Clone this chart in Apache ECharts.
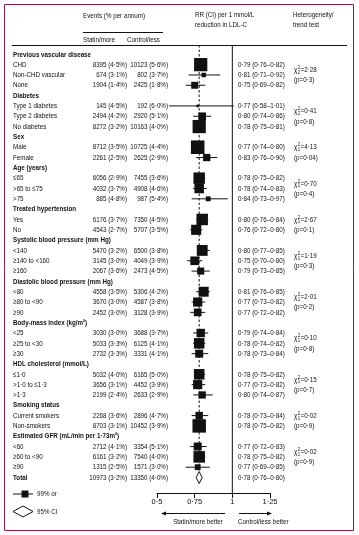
<!DOCTYPE html>
<html><head><meta charset="utf-8">
<script src="https://cdn.jsdelivr.net/npm/echarts@6/dist/echarts.min.js"></script>
<style>html,body{margin:0;padding:0;background:#fff}#c{width:359px;height:535px}</style>
</head><body><div id="c"></div>
<script>
const subgroups = ['Previous vascular disease','CHD','Non-CHD vascular','None','Diabetes','Type 1 diabetes','Type 2 diabetes','No diabetes','Sex','Male','Female','Age (years)','≤65','>65 to ≤75','>75','Treated hypertension','Yes','No','Systolic blood pressure (mm Hg)','<140','≥140 to <160','≥160','Diastolic blood pressure (mm Hg)','<80','≥80 to <90','≥90','Body-mass index (kg/m²)','<25','≥25 to <30','≥30','HDL cholesterol (mmol/L)','≤1·0','>1·0 to ≤1·3','>1·3','Smoking status','Current smokers','Non-smokers','Estimated GFR (mL/min per 1·73m²)','<60','≥60 to <90','≥90','Total'];
const statinN = [null,8395,674,1904,null,145,2494,8272,null,8712,2261,null,6056,4032,885,null,6176,4543,null,5470,3145,2067,null,4558,3670,2452,null,3030,5033,2732,null,5032,3656,2199,null,2268,8703,null,2712,6161,1315,10973];
const statinPct = [null,4.5,3.1,1.4,null,4.5,4.2,3.2,null,3.5,2.5,null,2.9,3.7,4.8,null,3.7,2.7,null,3.2,3.0,3.6,null,3.5,3.0,3.0,null,3.0,3.3,3.3,null,4.0,3.1,2.4,null,3.6,3.1,null,4.1,3.2,2.5,3.2];
const controlN = [null,10123,802,2425,null,192,2920,10163,null,10725,2625,null,7455,4908,987,null,7350,5707,null,6500,4049,2473,null,5306,4587,3128,null,3688,6125,3331,null,6165,4452,2633,null,2896,10452,null,3354,7540,1571,13350];
const controlPct = [null,5.6,3.7,1.8,null,6.0,5.1,4.0,null,4.4,2.9,null,3.6,4.6,5.4,null,4.5,3.5,null,3.8,3.9,4.5,null,4.2,3.8,3.9,null,3.7,4.1,4.1,null,5.0,3.9,2.9,null,4.7,3.9,null,5.1,4.0,3.0,4.0];
const rr = [null,0.79,0.81,0.75,null,0.77,0.80,0.78,null,0.77,0.83,null,0.78,0.78,0.84,null,0.80,0.76,null,0.80,0.75,0.79,null,0.81,0.77,0.77,null,0.79,0.78,0.78,null,0.78,0.77,0.80,null,0.78,0.78,null,0.77,0.78,0.77,0.78];
const rrLow = [null,0.76,0.71,0.69,null,0.58,0.74,0.75,null,0.74,0.76,null,0.75,0.74,0.73,null,0.76,0.72,null,0.77,0.70,0.73,null,0.76,0.73,0.72,null,0.74,0.74,0.73,null,0.75,0.73,0.74,null,0.73,0.75,null,0.72,0.75,0.69,0.76];
const rrHigh = [null,0.82,0.92,0.82,null,1.01,0.86,0.81,null,0.80,0.90,null,0.82,0.83,0.97,null,0.84,0.80,null,0.85,0.80,0.85,null,0.85,0.82,0.82,null,0.84,0.82,0.84,null,0.82,0.82,0.87,null,0.84,0.82,null,0.83,0.82,0.85,0.80];
const hetGroups = [0,4,8,11,15,18,22,26,30,34,37];
const hetDf = [2,2,1,1,1,1,1,1,1,1,1];
const hetChi = ['2·28','0·41','4·13','0·70','2·67','1·19','2·01','0·10','0·15','0·02','0·02'];
const hetP = ['0·3','0·8','0·04','0·4','0·1','0·3','0·2','0·8','0·7','0·9','0·9'];
const xTicks = [0.5, 0.75, 1, 1.25];
const overallRR = 0.78;
const TOTAL = subgroups.length - 1;

const FONT = '"Liberation Sans",Arial,sans-serif';
const FS = '8px ';
const SX = 0.78;
const INK = '#111111';
const BORDER = '#8c1c4c';
function fmt(v, d) { return v.toFixed(d).replace('.', '·'); }
function t(text, x, y, opt) {
  opt = opt || {};
  return {type:'text', silent:true, x, y, scaleX: SX, scaleY: 1,
    style:{text, x:0, y:0, font:(opt.bold?'bold ':'') + (opt.size||FS) + FONT,
    fill: INK, textAlign: opt.align||'left', textVerticalAlign:'middle'}};
}

const chart = echarts.init(document.getElementById('c'), null, {renderer:'canvas'});

const rowData = subgroups.map((s, i) => [0.5, i]);
const ciData = [];
rr.forEach((v, i) => { if (v != null && i !== TOTAL) ciData.push([v, i, rrLow[i], rrHigh[i], statinN[i] + controlN[i]]); });
const hetData = hetGroups.map((g, k) => [0.5, g, k]);

const option = {
  animation: false,
  grid: {left:157, right:89, top:44, bottom:42},
  xAxis: {type:'value', min:0.5, max:1.25, interval:0.25,
    axisLine:{show:true, onZero:false, lineStyle:{color:INK, width:1}},
    axisTick:{show:true, length:5, lineStyle:{color:INK}},
    splitLine:{show:false},
    axisLabel:{margin:5, color:INK, fontSize:7.5, fontFamily:'"Liberation Sans",sans-serif', formatter: v => String(v).replace('.', '·')}
  },
  yAxis: {type:'value', min:-1, max:42.5, inverse:true, show:false},
  series: [
    { // reference lines
      type:'custom', coordinateSystem:'cartesian2d', clip:false,
      data:[[overallRR, 0], [1, 1]],
      renderItem(params, api){
        const v = api.value(0);
        const dashed = params.dataIndex === 0;
        const top = api.coord([v, -0.9]);
        const bot = api.coord([v, dashed ? TOTAL - 0.6 : 42.5]);
        return {type:'line', shape:{x1:top[0], y1:top[1], x2:bot[0], y2:bot[1]},
          style:{stroke:INK, lineWidth:1, lineDash: dashed ? [2.5,2] : null}};
      }
    },
    { // CIs and squares
      type:'custom', coordinateSystem:'cartesian2d', clip:false,
      data: ciData,
      renderItem(params, api){
        const c = api.coord([api.value(0), api.value(1)]);
        const l = api.coord([api.value(2), api.value(1)]);
        const h = api.coord([api.value(3), api.value(1)]);
        const s = 1 + 0.09 * Math.sqrt(api.value(4));
        return {type:'group', children:[
          {type:'line', shape:{x1:l[0], y1:l[1], x2:h[0], y2:h[1]}, style:{stroke:INK, lineWidth:1}},
          {type:'rect', shape:{x:c[0]-s/2, y:c[1]-s/2, width:s, height:s}, style:{fill:INK}}
        ]};
      }
    },
    { // total diamond
      type:'custom', coordinateSystem:'cartesian2d', clip:false,
      data: [[rr[TOTAL], TOTAL, rrLow[TOTAL], rrHigh[TOTAL]]],
      renderItem(params, api){
        const c = api.coord([api.value(0), api.value(1)]);
        const l = api.coord([api.value(2), api.value(1)]);
        const h = api.coord([api.value(3), api.value(1)]);
        return {type:'polygon', shape:{points:[[l[0], c[1]], [c[0], c[1]-6], [h[0], c[1]], [c[0], c[1]+6]]},
          style:{fill:'#fff', stroke:INK, lineWidth:1}};
      }
    },
    { // table text
      type:'custom', coordinateSystem:'cartesian2d', clip:false,
      data: rowData,
      renderItem(params, api){
        const i = api.value(1);
        const y = api.coord([0.5, i])[1];
        const head = statinN[i] == null || i === TOTAL;
        const ch = [t(subgroups[i], 13, y, {bold: head})];
        if (statinN[i] != null) {
          ch.push(t(statinN[i] + ' (' + fmt(statinPct[i], 1) + '%)', 127, y, {align:'right'}));
          ch.push(t(controlN[i] + ' (' + fmt(controlPct[i], 1) + '%)', 168, y, {align:'right'}));
          ch.push(t(fmt(rr[i], 2) + ' (' + fmt(rrLow[i], 2) + '–' + fmt(rrHigh[i], 2) + ')', 238, y));
        }
        return {type:'group', children: ch};
      }
    },
    { // heterogeneity
      type:'custom', coordinateSystem:'cartesian2d', clip:false,
      data: hetData,
      renderItem(params, api){
        const k = api.value(2);
        const g = hetGroups[k];
        const next = k + 1 < hetGroups.length ? hetGroups[k+1] : TOTAL;
        const n = next - g - 1;
        const chiRow = n === 2 ? g + 1 : g + 1.5;
        const pRow = n === 2 ? g + 2 : g + 2.5;
        const y1 = api.coord([0.5, chiRow])[1];
        const y2 = api.coord([0.5, pRow])[1];
        const x = 294;
        return {type:'group', children:[
          t('χ', x, y1),
          t('2', x + 3.7, y1 - 2.3, {size:'5.5px '}),
          t(String(hetDf[k]), x + 3.7, y1 + 2.5, {size:'5.5px '}),
          t('=' + hetChi[k], x + 6.6, y1),
          t('(p=' + hetP[k] + ')', x, y2)
        ]};
      }
    }
  ],
  graphic: [
    {type:'rect', silent:true, shape:{x:4.5, y:4.5, width:349, height:526}, style:{fill:null, stroke:BORDER, lineWidth:1}},
    t('Events (% per annum)', 83, 16),
    {type:'line', silent:true, shape:{x1:83, y1:32.5, x2:163, y2:32.5}, style:{stroke:INK, lineWidth:1}},
    t('Statin/more', 83, 40),
    t('Control/less', 127, 40),
    t('RR (CI) per 1 mmol/L', 195, 15),
    t('reduction in LDL-C', 195, 25),
    t('Heterogeneity/', 293, 15),
    t('trend test', 293, 25),
    {type:'line', silent:true, shape:{x1:12, y1:45.5, x2:347, y2:45.5}, style:{stroke:INK, lineWidth:1}},
    // legend
    {type:'line', silent:true, shape:{x1:13, y1:494, x2:33, y2:494}, style:{stroke:INK, lineWidth:1}},
    {type:'rect', silent:true, shape:{x:21.5, y:490.5, width:7, height:7}, style:{fill:INK}},
    t('99% or', 37, 494),
    {type:'polygon', silent:true, shape:{points:[[13,511.5],[23,506],[33,511.5],[23,517]]}, style:{fill:'#fff', stroke:INK, lineWidth:1}},
    t('95% CI', 37, 512),
    // arrows
    {type:'line', silent:true, shape:{x1:225, y1:513.5, x2:165, y2:513.5}, style:{stroke:INK, lineWidth:1}},
    {type:'polygon', silent:true, shape:{points:[[161,513.5],[166,511.5],[166,515.5]]}, style:{fill:INK}},
    {type:'line', silent:true, shape:{x1:239, y1:513.5, x2:268, y2:513.5}, style:{stroke:INK, lineWidth:1}},
    {type:'polygon', silent:true, shape:{points:[[272,513.5],[267,511.5],[267,515.5]]}, style:{fill:INK}},
    t('Statin/more better', 198, 522, {align:'center'}),
    t('Control/less better', 238, 522)
  ]
};
chart.setOption(option);
</script>
</body></html>
